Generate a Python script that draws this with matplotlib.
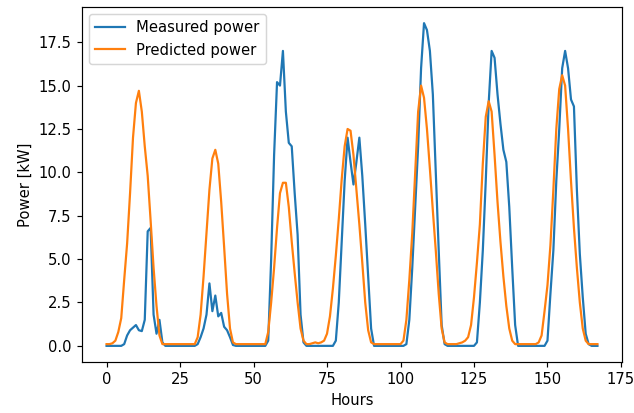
import numpy as np
import matplotlib
matplotlib.use('Agg')
import matplotlib.pyplot as plt

# measured power per hour (kW)
measured = [
    0, 0, 0, 0, 0, 0, 0.1, 0.6, 0.9, 1.05, 1.2, 0.9, 0.85, 1.5, 6.6, 6.8, 1.8, 0.7, 1.5, 0.2,
    0, 0, 0, 0, 0, 0, 0, 0, 0, 0,
    0, 0.1, 0.5, 1.0, 1.8, 3.6, 2.0, 2.9, 1.7, 1.9, 1.1, 0.9, 0.5, 0.05,
    0, 0, 0, 0, 0, 0, 0, 0, 0, 0, 0,
    0.3, 5.0, 11.0, 15.2, 15.0, 17.0, 13.5, 11.7, 11.5, 8.8, 6.4, 1.8, 0.2,
    0, 0, 0, 0, 0, 0, 0, 0, 0, 0,
    0.3, 2.5, 6.0, 9.5, 12.0, 10.6, 9.3, 10.6, 12.0, 9.8, 7.0, 4.0, 1.0,
    0, 0, 0, 0, 0, 0, 0, 0, 0, 0, 0,
    0.1, 1.5, 4.5, 8.0, 11.5, 16.0, 18.6, 18.2, 17.0, 14.5, 10.0, 5.5, 1.2, 0.1,
    0, 0, 0, 0, 0, 0, 0, 0, 0, 0,
    0.2, 2.5, 5.5, 9.5, 14.0, 17.0, 16.6, 14.5, 12.8, 11.3, 10.6, 8.0, 4.5, 1.2,
    0, 0, 0, 0, 0, 0, 0, 0, 0, 0,
    0.3, 3.0, 5.5, 9.5, 12.5, 16.0, 17.0, 16.0, 14.2, 13.8, 9.0, 5.3, 2.8, 0.7, 0.1,
    0, 0, 0,
]

# predicted power per hour (kW)
predicted = [
    0.1, 0.1, 0.15, 0.3, 0.8, 1.6, 3.8, 5.9, 8.8, 12.0, 14.0, 14.7, 13.5, 11.5, 9.8, 7.2, 4.5, 2.3, 0.6, 0.1,
    0.1, 0.1, 0.1, 0.1, 0.1, 0.1, 0.1, 0.1, 0.1, 0.1,
    0.1, 0.5, 1.8, 4.0, 6.5, 9.0, 10.8, 11.3, 10.5, 8.3, 5.7, 3.0, 1.0, 0.2,
    0.1, 0.1, 0.1, 0.1, 0.1, 0.1, 0.1, 0.1, 0.1, 0.1,
    0.1, 0.8, 2.5, 4.5, 6.8, 8.8, 9.4, 9.4, 8.0, 6.0, 4.2, 2.5, 1.0, 0.3,
    0.1, 0.1, 0.15, 0.2, 0.15, 0.2,
    0.3, 0.7, 1.7, 3.3, 5.2, 7.3, 9.6, 11.5, 12.5, 12.4, 11.0, 9.0, 7.0, 4.8, 2.5, 0.9, 0.2,
    0.1, 0.1, 0.1, 0.1, 0.1, 0.1, 0.1, 0.1, 0.1,
    0.1, 0.3, 1.5, 3.8, 6.5, 10.0, 13.5, 15.0, 14.3, 12.5, 10.2, 7.8, 5.5, 3.0, 1.0, 0.2,
    0.1, 0.1, 0.1, 0.1, 0.15, 0.2, 0.3, 0.5, 1.2, 2.8, 4.8, 7.0, 10.5, 13.2, 14.1, 13.5,
    11.0, 8.3, 6.0, 4.0, 2.3, 1.0, 0.3, 0.1,
    0.1, 0.1, 0.1, 0.1, 0.1, 0.1,
    0.1, 0.2, 0.6, 2.0, 3.5, 5.8, 9.0, 12.5, 14.8, 15.6, 15.0, 12.5, 9.5, 6.8, 4.5, 2.5, 1.0, 0.3, 0.1,
    0.1, 0.1, 0.1,
]

hours = np.arange(len(measured))

dpi = 106
fig = plt.figure(figsize=(634 / dpi, 413 / dpi), dpi=dpi)
ax = fig.add_axes([82 / 634, 1 - 362 / 413, 540 / 634, 355 / 413])

ax.plot(hours, measured, label='Measured power')
ax.plot(hours[:len(predicted)], predicted, label='Predicted power')
ax.set_xlabel('Hours')
ax.set_ylabel('Power [kW]')
ax.set_xticks(np.arange(0, 176, 25))
ax.set_yticks(np.arange(0, 17.6, 2.5))
ax.legend(loc='upper left')

fig.savefig('out.png', dpi=dpi)
plt.close()
